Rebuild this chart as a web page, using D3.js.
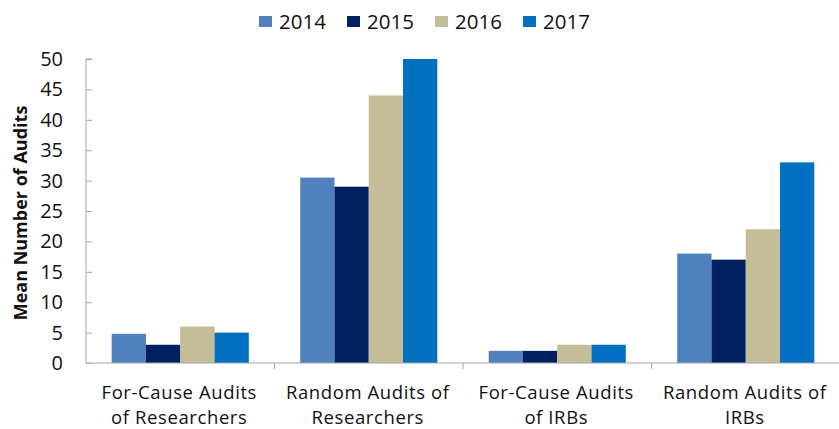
<!DOCTYPE html>
<html>
<head>
<meta charset="utf-8">
<script src="https://cdn.jsdelivr.net/npm/d3@7"></script>
<style>
  html, body { margin: 0; padding: 0; background: #fff; }
  svg { display: block; font-family: "Open Sans", sans-serif; }
</style>
</head>
<body>
<svg id="chart" width="839" height="429"></svg>
<script>
  const categories = [
    'For-Cause Audits\nof Researchers',
    'Random Audits of\nResearchers',
    'For-Cause Audits\nof IRBs',
    'Random Audits of\nIRBs'
  ];
  const years = ['2014', '2015', '2016', '2017'];
  const values2014 = [4.8, 30.5, 2, 18];
  const values2015 = [3, 29, 2, 17];
  const values2016 = [6, 44, 3, 22];
  const values2017 = [5, 50, 3, 33];
  const yTicks = [0, 5, 10, 15, 20, 25, 30, 35, 40, 45, 50];
  const colors = ['#4f81bd', '#002060', '#c4bd97', '#0070c0'];

  const series = [values2014, values2015, values2016, values2017];

  const W = 839, H = 429;
  const margin = { left: 86, right: -1, top: 59, bottom: 66 };

  const svg = d3.select('#chart');

  const x0 = d3.scaleBand()
    .domain(categories)
    .range([margin.left, W - margin.right])
    .padding(0);

  const x1 = d3.scaleBand()
    .domain(years)
    .range([0, x0.bandwidth()])
    .paddingInner(0)
    .paddingOuter(0.75);

  const y = d3.scaleLinear()
    .domain([0, 50])
    .range([H - margin.bottom, margin.top]);

  const color = d3.scaleOrdinal().domain(years).range(colors);

  // bars
  const groups = svg.append('g')
    .selectAll('g')
    .data(categories)
    .join('g')
    .attr('transform', d => `translate(${x0(d)},0)`);

  groups.selectAll('rect')
    .data((d, i) => years.map((yr, j) => ({ yr, v: series[j][i] })))
    .join('rect')
    .attr('x', d => x1(d.yr))
    .attr('width', x1.bandwidth())
    .attr('y', d => y(d.v))
    .attr('height', d => y(0) - y(d.v))
    .attr('fill', d => color(d.yr));

  // y axis
  const yAxis = svg.append('g')
    .attr('transform', `translate(${margin.left},0)`)
    .call(d3.axisRight(y).tickValues(yTicks).tickSize(6).tickFormat(d3.format('d')));
  yAxis.select('.domain').attr('stroke', '#a6a6a6').attr('d', `M6,${y(50)}H0V${y(0)}`);
  yAxis.selectAll('.tick line').attr('stroke', '#a6a6a6');
  yAxis.selectAll('.tick text')
    .attr('x', -23)
    .attr('text-anchor', 'end')
    .attr('font-size', 20)
    .attr('font-family', '"Open Sans", sans-serif')
    .attr('fill', '#111');

  // x axis
  const xAxis = svg.append('g')
    .attr('transform', `translate(0,${y(0)})`);
  xAxis.append('line')
    .attr('x1', margin.left).attr('x2', W)
    .attr('stroke', '#a6a6a6');
  xAxis.selectAll('line.cat-tick')
    .data(categories.slice(1))
    .join('line')
    .attr('class', 'cat-tick')
    .attr('x1', d => x0(d)).attr('x2', d => x0(d))
    .attr('y1', 0).attr('y2', 6)
    .attr('stroke', '#a6a6a6');

  const labels = xAxis.selectAll('text.cat')
    .data(categories)
    .join('text')
    .attr('class', 'cat')
    .attr('text-anchor', 'middle')
    .attr('font-size', 18.5)
    .attr('letter-spacing', 0.6)
    .attr('fill', '#111')
    .attr('transform', d => `translate(${x0(d) + x0.bandwidth() / 2 - 1},0)`);
  labels.selectAll('tspan')
    .data(d => d.split('\n'))
    .join('tspan')
    .attr('x', 0)
    .attr('y', (d, i) => 35.5 + i * 25)
    .text(d => d);

  // y axis title
  svg.append('text')
    .attr('transform', `translate(27,${(y(0) + y(50)) / 2 + 2}) rotate(-90)`)
    .attr('text-anchor', 'middle')
    .attr('font-size', 18)
    .attr('font-weight', 'bold')
    .attr('fill', '#111')
    .text('Mean Number of Audits');

  // legend
  const legX = d3.scaleBand().domain(years).range([259, 259 + 88 * 4]);
  const leg = svg.append('g')
    .selectAll('g')
    .data(years)
    .join('g')
    .attr('transform', d => `translate(${legX(d)},16)`);
  leg.append('rect')
    .attr('width', 13).attr('height', 11)
    .attr('fill', d => color(d));
  leg.append('text')
    .attr('x', 20).attr('y', 12.5)
    .attr('font-size', 20.5)
    .attr('fill', '#111')
    .text(d => d);
</script>
</body>
</html>
